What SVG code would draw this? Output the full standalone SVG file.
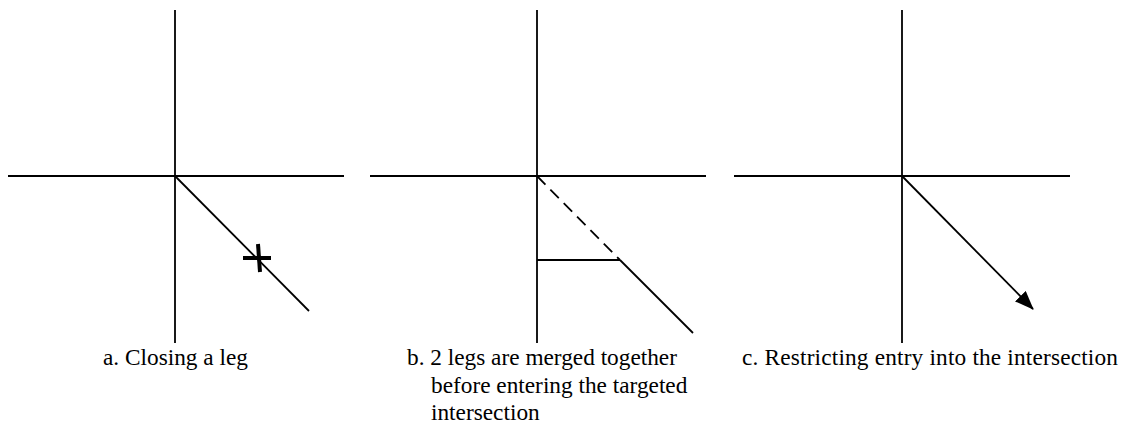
<svg xmlns="http://www.w3.org/2000/svg" width="1125" height="423" viewBox="0 0 1125 423">
<style>
.ln{stroke:#000;stroke-width:1.8;fill:none}
.dash{stroke-dasharray:12 7}
.lbl{font-family:"Liberation Serif","Times New Roman",serif;font-size:23.3px;fill:#000}
</style>
<defs>
<marker id="arr" markerWidth="19" markerHeight="15" refX="18" refY="7.5" orient="auto" markerUnits="userSpaceOnUse">
<path d="M0,0 L19,7.5 L0,15 Z" fill="#000"/>
</marker>
</defs>
<rect width="1125" height="423" fill="#fff"/>
<g id="panel-a">
<line class="ln" x1="175" y1="10" x2="175" y2="343"/>
<line class="ln" x1="8" y1="176" x2="344" y2="176"/>
<line class="ln" x1="175" y1="176" x2="309" y2="311"/>
<line stroke="#000" stroke-width="4" x1="243" y1="258" x2="271" y2="258"/>
<line stroke="#000" stroke-width="4" x1="258" y1="244" x2="260" y2="272"/>
<text class="lbl" x="103" y="365">a. Closing a leg</text>
</g>
<g id="panel-b">
<line class="ln" x1="537" y1="10" x2="537" y2="343"/>
<line class="ln" x1="370" y1="176" x2="706" y2="176"/>
<line class="ln dash" x1="537" y1="176" x2="620" y2="260"/>
<line class="ln" x1="537" y1="260" x2="620" y2="260"/>
<line class="ln" x1="620" y1="260" x2="693" y2="333"/>
<text class="lbl" x="407" y="365">b. 2 legs are merged together</text>
<text class="lbl" x="431" y="393">before entering the targeted</text>
<text class="lbl" x="431" y="420">intersection</text>
</g>
<g id="panel-c">
<line class="ln" x1="902" y1="10" x2="902" y2="343"/>
<line class="ln" x1="734" y1="176" x2="1070" y2="176"/>
<text class="lbl" x="742" y="365" textLength="376" lengthAdjust="spacing">c. Restricting entry into the intersection</text>
</g>
<g id="connectors">
<line class="ln" x1="902" y1="176" x2="1033" y2="309" marker-end="url(#arr)"/>
</g>
</svg>
